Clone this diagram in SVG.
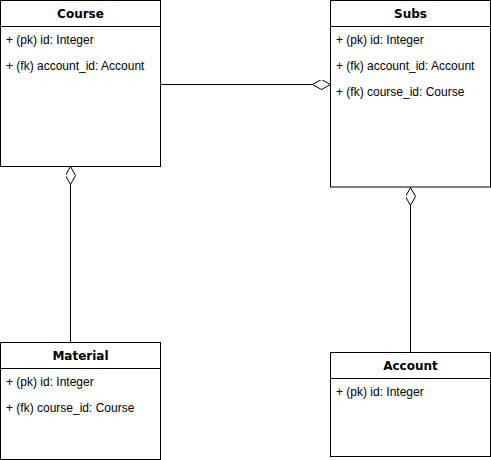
<svg xmlns="http://www.w3.org/2000/svg" width="491" height="460" viewBox="0 0 491 460">
<style>
.box{fill:#fff;stroke:#000;stroke-width:1}
.hdr{font-family:"DejaVu Sans",Verdana,sans-serif;font-weight:bold;font-size:12px;fill:#000;text-anchor:middle}
.attr{font-family:"Liberation Sans",Arial,sans-serif;font-size:12px;fill:#000}
.conn{fill:none;stroke:#000;stroke-width:1}
</style>
<defs>
<marker id="dia" markerUnits="userSpaceOnUse" markerWidth="20" markerHeight="12" refX="18" refY="5" orient="auto" viewBox="0 0 20 12">
<path d="M0,5 L9,0 L18,5 L9,10 Z" fill="#fff" stroke="#000" stroke-width="1"/>
</marker>
</defs>
<rect width="491" height="460" fill="#fff"/>
<g id="connectors">
<path class="conn" d="M160.5,84.5 L330.5,84.5" stroke="#555" marker-end="url(#dia)"/>
<path class="conn" d="M70.5,342.5 L70.5,166.5" marker-end="url(#dia)"/>
<path class="conn" d="M410.5,276 L410.5,187.5" stroke="#888" marker-end="url(#dia)"/>
<path class="conn" d="M410.5,352.5 L410.5,276" stroke="#333" stroke-width="1.5"/>
</g>
<g id="course">
<rect class="box" x="0.5" y="0.5" width="160" height="166"/>
<line class="box" x1="0.5" y1="26.5" x2="160.5" y2="26.5"/>
<text class="hdr" x="80.5" y="18">Course</text>
<text class="attr" x="6" y="44">+ (pk) id: Integer</text>
<text class="attr" x="6" y="70">+ (fk) account_id: Account</text>
</g>
<g id="subs">
<rect class="box" x="330.5" y="0.5" width="160" height="186.5"/>
<line class="box" x1="330.5" y1="26.5" x2="490.5" y2="26.5"/>
<text class="hdr" x="410.5" y="18">Subs</text>
<text class="attr" x="336" y="44">+ (pk) id: Integer</text>
<text class="attr" x="336" y="70">+ (fk) account_id: Account</text>
<text class="attr" x="336" y="96">+ (fk) course_id: Course</text>
</g>
<g id="material">
<rect class="box" x="0.5" y="342.5" width="160" height="117"/>
<line class="box" x1="0.5" y1="368.5" x2="160.5" y2="368.5"/>
<text class="hdr" x="80.5" y="360">Material</text>
<text class="attr" x="6" y="386">+ (pk) id: Integer</text>
<text class="attr" x="6" y="412">+ (fk) course_id: Course</text>
</g>
<g id="account">
<rect class="box" x="330.5" y="352.5" width="160" height="104"/>
<line class="box" x1="330.5" y1="378.5" x2="490.5" y2="378.5"/>
<text class="hdr" x="410.5" y="370">Account</text>
<text class="attr" x="336" y="396">+ (pk) id: Integer</text>
</g>
</svg>
